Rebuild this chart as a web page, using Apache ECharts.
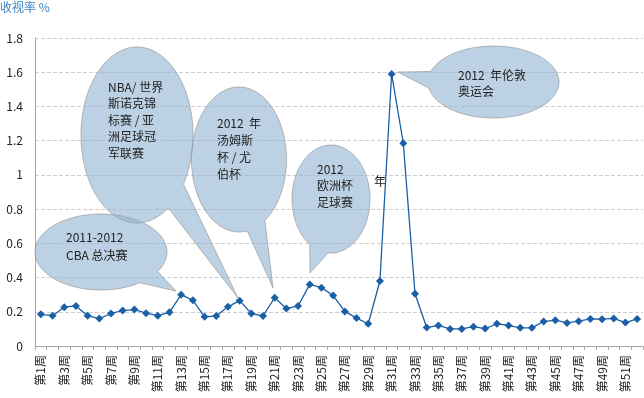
<!DOCTYPE html>
<html>
<head>
<meta charset="utf-8">
<script src="https://cdn.jsdelivr.net/npm/echarts@6/dist/echarts.min.js"></script>
<style>
	html, body { margin: 0; padding: 0; background: #fff; }
	#main { width: 644px; height: 398px; }
</style>
</head>
<body>
<div id="main"></div>
<script>
	// 周
	var weeks = ['第1周','第2周','第3周','第4周','第5周','第6周','第7周','第8周','第9周','第10周',
		'第11周','第12周','第13周','第14周','第15周','第16周','第17周','第18周','第19周','第20周',
		'第21周','第22周','第23周','第24周','第25周','第26周','第27周','第28周','第29周','第30周',
		'第31周','第32周','第33周','第34周','第35周','第36周','第37周','第38周','第39周','第40周',
		'第41周','第42周','第43周','第44周','第45周','第46周','第47周','第48周','第49周','第50周',
		'第51周','第52周'];

	// 收视率 %
	var rating = [0.185,0.177,0.227,0.234,0.177,0.16,0.19,0.207,0.213,0.192,
		0.177,0.197,0.30,0.267,0.171,0.175,0.229,0.265,0.19,0.176,
		0.282,0.219,0.234,0.36,0.341,0.295,0.202,0.163,0.13,0.38,
		1.59,1.185,0.305,0.108,0.12,0.1,0.1,0.113,0.102,0.13,
		0.12,0.106,0.106,0.143,0.151,0.135,0.145,0.158,0.157,0.161,
		0.137,0.158];

	var yTicks = [0, 1.8, 0.2];   // min, max, interval

	var titleText = '收视率 %';

	// 气泡注释的文字
	var notes = [
		['2011-2012', 'CBA 总决赛'],
		['NBA/ 世界', '斯诺克锦', '标赛 / 亚', '洲足球冠', '军联赛'],
		['2012  年', '汤姆斯', '杯 / 尤', '伯杯'],
		['2012', '欧洲杯', '足球赛'],
		['2012  年伦敦', '奥运会']
	];

	var font = '"Noto Sans CJK SC", "Noto Sans", sans-serif';

	// 气泡: 椭圆 + 尾巴 (像素)
	var bubbles = [
		{ cx: 101, cy: 252, rx: 66, ry: 38, a1: 31, a2: 54, tip: [176, 291], tx: 66, ty: 237, lh: 18 },
		{ cx: 137, cy: 135, rx: 56, ry: 88, a1: 34, a2: 56, tip: [238, 298], tx: 108, ty: 87, lh: 16.5 },
		{ cx: 239, cy: 159.5, rx: 47.5, ry: 72.5, a1: 57, a2: 80, tip: [273, 288], tx: 217, ty: 123, lh: 17 },
		{ cx: 331, cy: 199, rx: 39, ry: 54, a1: 94, a2: 123, tip: [310, 273], tx: 317, ty: 169, lh: 16.5 },
		{ cx: 493.5, cy: 82, rx: 65.5, ry: 36, a1: 170, a2: 197, tip: [398, 72], tx: 458, ty: 75, lh: 16 }
	];

	function pt(b, deg) {
		var r = deg * Math.PI / 180;
		return [b.cx + b.rx * Math.cos(r), b.cy + b.ry * Math.sin(r)];
	}

	// 椭圆弧 (从 a2 绕到 a1) 再接尾巴尖
	function bubblePoints(b) {
		var pts = [];
		var end = b.a1 + 360;
		for (var d = b.a2; d < end; d += 3) {
			pts.push(pt(b, d));
		}
		pts.push(pt(b, end));
		pts.push(b.tip);
		return pts;
	}

	var graphics = [];
	bubbles.forEach(function (b, i) {
		graphics.push({
			type: 'polygon',
			z: 100,
			shape: { points: bubblePoints(b) },
			style: { fill: 'rgba(143,180,210,0.6)', stroke: '#9a9a9a', lineWidth: 0.7 }
		});
		notes[i].forEach(function (line, j) {
			graphics.push({
				type: 'text',
				z: 101,
				x: b.tx,
				y: b.ty + j * b.lh,
				style: { text: line, font: '12px ' + font, fill: '#222', verticalAlign: 'middle' }
			});
		});
	});
	// 欧洲杯气泡外的 "年"
	graphics.push({
		type: 'text', z: 101, x: 374, y: 181,
		style: { text: '年', font: '12px ' + font, fill: '#222', verticalAlign: 'middle' }
	});

	var option = {
		animation: false,
		textStyle: { fontFamily: font },
		title: {
			text: titleText,
			left: 0,
			top: 1,
			padding: 0,
			textStyle: { color: '#3b84c4', fontSize: 12, fontWeight: 'normal' }
		},
		grid: { left: 35, right: 1, top: 38, bottom: 52 },
		xAxis: {
			type: 'category',
			data: weeks,
			boundaryGap: true,
			axisLine: { lineStyle: { color: '#a8a8a8', width: 1 } },
			axisTick: { show: true, interval: 0, length: 4, lineStyle: { color: '#a8a8a8' } },
			axisLabel: { interval: 1, rotate: 90, fontSize: 12, color: '#222', margin: 9 },
			splitLine: { show: false }
		},
		yAxis: {
			type: 'value',
			min: yTicks[0],
			max: yTicks[1],
			interval: yTicks[2],
			axisLine: { show: true, lineStyle: { color: '#a8a8a8' } },
			axisTick: { show: false },
			axisLabel: { fontSize: 12, color: '#222', margin: 12 },
			splitLine: { lineStyle: { type: 'dashed', color: '#cfcfcf' } }
		},
		series: [{
			type: 'line',
			data: rating,
			symbol: 'diamond',
			symbolSize: 8,
			showAllSymbol: true,
			itemStyle: { color: '#1b5fa5' },
			lineStyle: { color: '#1b5fa5', width: 1.3 }
		}],
		graphic: graphics
	};

	var chart = echarts.init(document.getElementById('main'));
	chart.setOption(option);
</script>
</body>
</html>
